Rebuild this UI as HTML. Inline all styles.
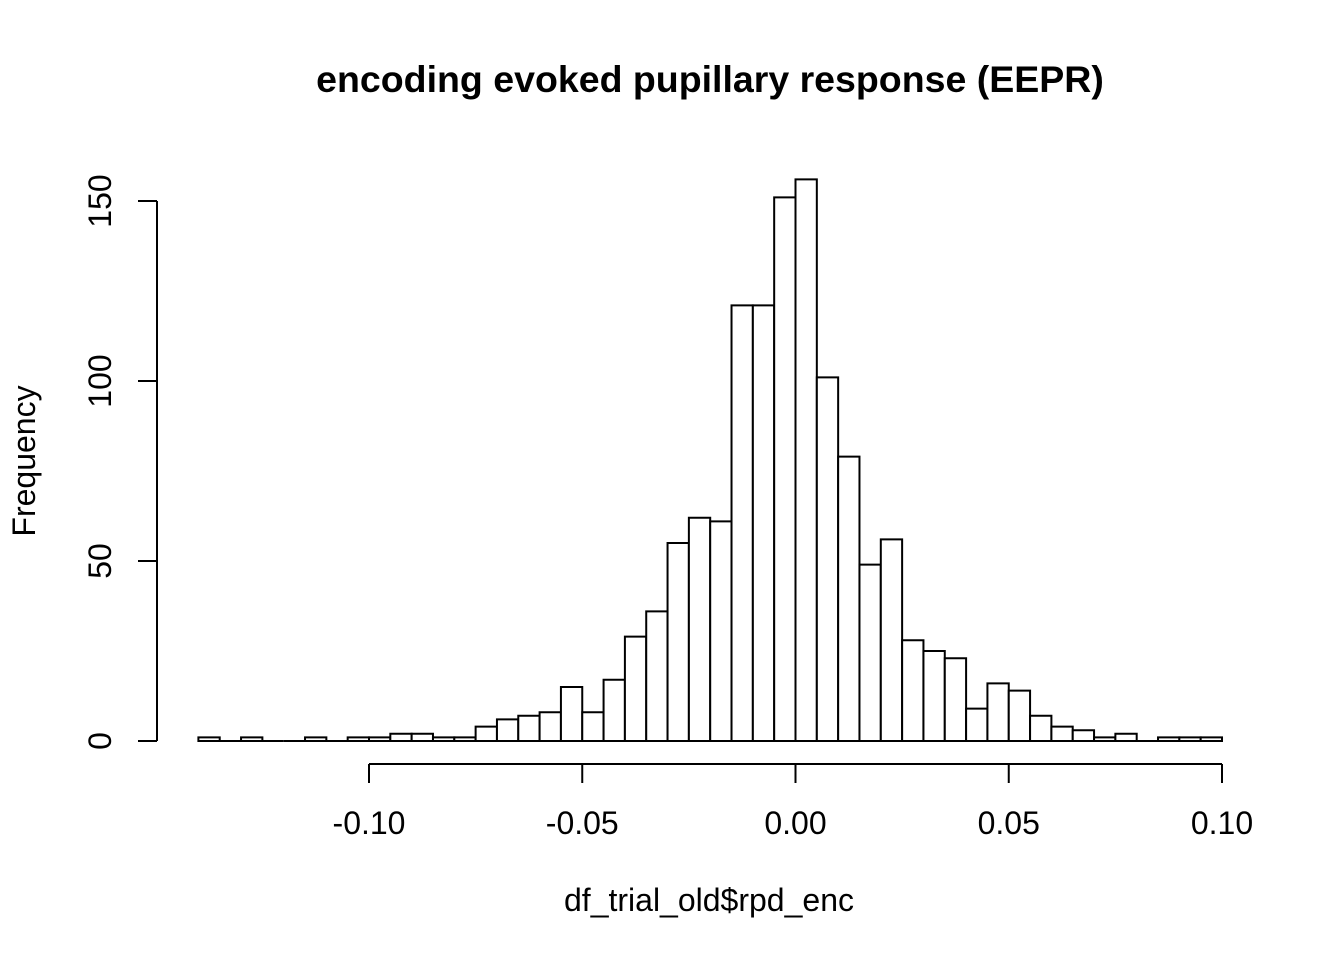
<!DOCTYPE html>
<html><head><meta charset="utf-8"><style>
body{margin:0;background:#fff}
svg text{font-family:"Liberation Sans",Arial,sans-serif;fill:#000}
</style></head><body>
<svg id="chart" width="1344" height="960" viewBox="0 0 1344 960" xmlns="http://www.w3.org/2000/svg">
<text x="710" y="92" font-size="37.5" font-weight="bold" text-anchor="middle">encoding evoked pupillary response (EEPR)</text>
<text x="709" y="911" font-size="32" text-anchor="middle">df_trial_old$rpd_enc</text>
<text x="0" y="0" font-size="32" text-anchor="middle" transform="translate(35,461) rotate(-90)">Frequency</text>
<g id="bars"></g>
<g id="xaxis"></g>
<g id="yaxis"></g>
</svg>
<script>
const binStart = -0.14;
const binWidth = 0.005;
const counts = [1,0,1,0,0,1,0,1,1,2,2,1,1,4,6,7,8,15,8,17,29,36,55,62,61,121,121,151,156,101,79,49,56,28,25,23,9,16,14,7,4,3,1,2,0,1,1,1];
const xTicks = [-0.10,-0.05,0.00,0.05,0.10];
const xTickLabels = ["-0.10","-0.05","0.00","0.05","0.10"];
const yTicks = [0,50,100,150];
const yTickLabels = ["0","50","100","150"];

const NS = "http://www.w3.org/2000/svg";
const xs = v => 369 + (v + 0.10) * (1222 - 369) / 0.2;
const ys = v => 741 - v * (741 - 201) / 150;
function mk(tag, attrs, parent){const e=document.createElementNS(NS,tag);for(const k in attrs)e.setAttribute(k,attrs[k]);parent.appendChild(e);return e;}
const bars = document.getElementById('bars');
counts.forEach((c,i)=>{
  const x0 = xs(binStart + i*binWidth), x1 = xs(binStart + (i+1)*binWidth);
  const y0 = ys(0), y1 = ys(c);
  const d = `M${x0},${y0} L${x0},${y1} L${x1},${y1} L${x1},${y0} Z`;
  const r = mk('path',{d:d,fill:'#fff',stroke:'#000','stroke-width':2},bars);
  
  
});
const xa = document.getElementById('xaxis');
mk('line',{x1:xs(xTicks[0]),x2:xs(xTicks[xTicks.length-1]),y1:764,y2:764,stroke:'#000','stroke-width':2},xa);
xTicks.forEach((t,i)=>{
  mk('line',{x1:xs(t),x2:xs(t),y1:764,y2:783,stroke:'#000','stroke-width':2},xa);
  const tx = mk('text',{x:xs(t),y:834,'font-size':32,'text-anchor':'middle'},xa);
  tx.textContent = xTickLabels[i];
  
  
});
const ya = document.getElementById('yaxis');
mk('line',{x1:157,x2:157,y1:ys(yTicks[0]),y2:ys(yTicks[yTicks.length-1]),stroke:'#000','stroke-width':2},ya);
yTicks.forEach((t,i)=>{
  mk('line',{x1:138,x2:157,y1:ys(t),y2:ys(t),stroke:'#000','stroke-width':2},ya);
  const tx = mk('text',{x:0,y:0,'font-size':32,'text-anchor':'middle',transform:`translate(111,${ys(t)}) rotate(-90)`},ya);
  tx.textContent = yTickLabels[i];
  
  
});
</script>
</body></html>
